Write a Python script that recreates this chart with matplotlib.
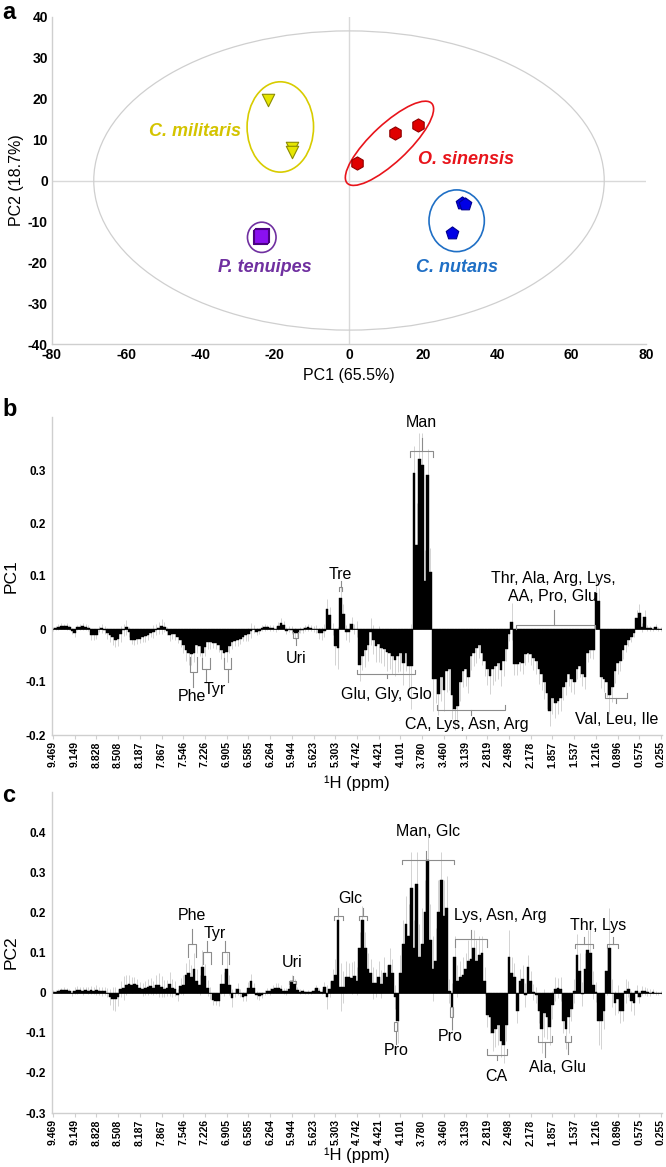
import matplotlib.pyplot as plt
from matplotlib.patches import Ellipse, Rectangle
import numpy as np

plt.rcParams['font.family'] = ['Liberation Sans', 'DejaVu Sans']
plt.rcParams['axes.unicode_minus'] = False
NARROW = ['Liberation Sans Narrow', 'Liberation Sans', 'DejaVu Sans']

# ---------------- panel a: PCA scores ----------------
mil_x = [-21.7, -15.3, -15.3]
mil_y = [19.7, 8.0, 7.0]
sin_x = [2.1, 12.4, 18.6]
sin_y = [4.2, 11.5, 13.7]
nut_x = [30.4, 31.2, 27.8]
nut_y = [-5.6, -5.8, -12.9]
ten_x = [-23.9, -23.4, -23.6]
ten_y = [-13.9, -13.4, -13.6]

# ---------------- panels b, c: loadings ----------------
ppm_labels = ['9.469', '9.149', '8.828', '8.508', '8.187', '7.867', '7.546', '7.226',
              '6.905', '6.585', '6.264', '5.944', '5.623', '5.303', '4.742', '4.421',
              '4.101', '3.780', '3.460', '3.139', '2.819', '2.498', '2.178', '1.857',
              '1.537', '1.216', '0.896', '0.575', '0.255']

pc1 = [0.000, 0.002, 0.004, 0.006, 0.005, 0.005, 0.003, -0.004, -0.008, 0.003,
       0.004, 0.005, 0.004, 0.002, -0.012, -0.012, -0.011, 0.000, 0.001, -0.002,
       -0.008, -0.012, -0.016, -0.020, -0.019, -0.010, -0.002, 0.003, -0.006, -0.020,
       -0.020, -0.019, -0.018, -0.016, -0.014, -0.012, -0.008, -0.005, -0.001, 0.002,
       0.005, 0.004, -0.004, -0.012, -0.010, -0.010, -0.015, -0.020, -0.030, -0.040,
       -0.046, -0.047, -0.045, -0.030, -0.032, -0.045, -0.034, -0.025, -0.025, -0.026,
       -0.026, -0.030, -0.040, -0.045, -0.044, -0.032, -0.025, -0.022, -0.020, -0.018,
       -0.015, -0.012, -0.010, -0.003, 0.000, -0.005, -0.004, 0.002, 0.003, 0.003,
       0.002, 0.002, 0.000, 0.006, 0.011, 0.008, -0.003, 0.000, -0.002, -0.008,
       -0.008, -0.002, -0.002, 0.002, 0.003, 0.002, 0.000, 0.000, -0.008, -0.008,
       -0.003, 0.037, 0.026, 0.000, -0.033, -0.036, 0.058, 0.028, -0.006, -0.006,
       0.010, 0.000, 0.000, -0.068, -0.050, -0.040, -0.030, -0.005, -0.020, -0.033,
       -0.028, -0.036, -0.038, -0.043, -0.045, -0.050, -0.058, -0.050, -0.045, -0.065,
       -0.045, -0.070, -0.070, 0.295, 0.158, 0.320, 0.310, 0.090, 0.290, 0.108,
       -0.095, -0.095, -0.123, -0.090, -0.115, -0.080, -0.075, -0.125, -0.150, -0.145,
       -0.100, -0.080, -0.075, -0.090, -0.050, -0.045, -0.035, -0.030, -0.045, -0.060,
       -0.075, -0.088, -0.075, -0.070, -0.065, -0.078, -0.060, -0.038, -0.010, 0.014,
       -0.066, -0.066, -0.062, -0.065, -0.048, -0.045, -0.048, -0.055, -0.060, -0.075,
       -0.085, -0.100, -0.120, -0.155, -0.130, -0.140, -0.135, -0.130, -0.110, -0.100,
       -0.085, -0.095, -0.100, -0.075, -0.070, -0.085, -0.090, -0.045, -0.040, -0.040,
       0.068, 0.052, -0.090, -0.095, -0.100, -0.125, -0.110, -0.080, -0.065, -0.060,
       -0.040, -0.030, -0.020, -0.015, -0.008, 0.020, 0.030, 0.003, 0.022, 0.002,
       0.001, 0.000, 0.004, 0.000, 0.000]

pc1_err = [0.004, 0.004, 0.005, 0.006, 0.005, 0.006, 0.005, 0.006, 0.007, 0.005,
           0.006, 0.006, 0.005, 0.006, 0.008, 0.008, 0.007, 0.006, 0.008, 0.008,
           0.010, 0.012, 0.014, 0.014, 0.013, 0.015, 0.012, 0.014, 0.010, 0.008,
           0.010, 0.010, 0.009, 0.008, 0.010, 0.009, 0.008, 0.012, 0.010, 0.012,
           0.014, 0.010, 0.008, 0.010, 0.008, 0.010, 0.012, 0.014, 0.016, 0.020,
           0.022, 0.020, 0.018, 0.015, 0.018, 0.020, 0.016, 0.012, 0.012, 0.010,
           0.012, 0.014, 0.016, 0.020, 0.018, 0.014, 0.012, 0.010, 0.012, 0.010,
           0.008, 0.010, 0.012, 0.014, 0.008, 0.006, 0.006, 0.005, 0.006, 0.005,
           0.006, 0.006, 0.005, 0.008, 0.010, 0.008, 0.006, 0.006, 0.008, 0.010,
           0.008, 0.006, 0.006, 0.006, 0.006, 0.005, 0.006, 0.008, 0.010, 0.012,
           0.012, 0.020, 0.016, 0.012, 0.035, 0.040, 0.025, 0.020, 0.014, 0.018,
           0.012, 0.010, 0.015, 0.030, 0.028, 0.032, 0.030, 0.025, 0.028, 0.030,
           0.034, 0.028, 0.032, 0.036, 0.030, 0.034, 0.030, 0.032, 0.034, 0.040,
           0.035, 0.045, 0.080, 0.050, 0.080, 0.050, 0.060, 0.060, 0.050, 0.045,
           0.060, 0.045, 0.040, 0.045, 0.040, 0.038, 0.040, 0.045, 0.040, 0.038,
           0.035, 0.030, 0.032, 0.030, 0.028, 0.025, 0.030, 0.025, 0.022, 0.028,
           0.030, 0.035, 0.030, 0.028, 0.030, 0.030, 0.028, 0.022, 0.012, 0.035,
           0.020, 0.020, 0.018, 0.020, 0.020, 0.018, 0.020, 0.022, 0.025, 0.028,
           0.030, 0.032, 0.030, 0.028, 0.030, 0.028, 0.026, 0.025, 0.024, 0.025,
           0.022, 0.024, 0.022, 0.020, 0.020, 0.022, 0.024, 0.018, 0.015, 0.016,
           0.040, 0.025, 0.022, 0.024, 0.028, 0.035, 0.028, 0.022, 0.020, 0.020,
           0.016, 0.014, 0.012, 0.010, 0.008, 0.016, 0.018, 0.008, 0.014, 0.006,
           0.005, 0.004, 0.005, 0.003, 0.003]

pc2 = [0.002, 0.002, 0.003, 0.006, 0.007, 0.007, 0.005, -0.002, 0.005, 0.006,
       0.006, 0.005, 0.006, 0.005, 0.006, 0.005, 0.006, 0.004, 0.003, 0.004,
       0.000, -0.010, -0.015, -0.016, -0.012, 0.010, 0.012, 0.020, 0.022, 0.020,
       0.022, 0.018, 0.012, 0.008, 0.012, 0.014, 0.016, 0.012, 0.020, 0.018,
       0.015, 0.010, 0.012, 0.022, 0.012, 0.010, -0.005, 0.016, 0.018, 0.045,
       0.048, 0.040, 0.060, 0.028, 0.020, 0.065, 0.042, 0.012, 0.000, -0.018,
       -0.020, -0.020, 0.022, 0.022, 0.060, 0.020, -0.014, 0.000, 0.008, -0.002,
       -0.010, -0.008, 0.012, 0.028, 0.012, -0.006, -0.008, -0.006, 0.000, 0.004,
       0.003, 0.008, 0.012, 0.012, 0.010, 0.004, 0.003, 0.010, 0.028, 0.022,
       0.006, 0.002, 0.003, 0.001, 0.002, 0.001, 0.005, 0.012, 0.005, 0.002,
       0.015, -0.012, 0.010, 0.030, 0.045, 0.182, 0.015, 0.015, 0.040, 0.040,
       0.036, 0.042, 0.030, 0.110, 0.180, 0.110, 0.060, 0.050, 0.023, 0.024,
       0.040, 0.022, 0.050, 0.038, 0.070, 0.050, -0.010, -0.070, 0.050, 0.120,
       0.170, 0.140, 0.260, 0.110, 0.270, 0.090, 0.120, 0.200, 0.330, 0.130,
       0.060, 0.080, 0.200, 0.280, 0.190, 0.210, 0.005, -0.035, 0.090, 0.030,
       0.040, 0.045, 0.060, 0.080, 0.085, 0.110, 0.080, 0.095, 0.100, 0.030,
       -0.055, -0.060, -0.100, -0.090, -0.080, -0.120, -0.130, -0.080, 0.090, 0.050,
       0.040, -0.045, 0.030, 0.035, -0.005, 0.064, 0.030, 0.002, -0.005, -0.045,
       -0.090, -0.050, -0.060, -0.085, -0.030, 0.010, 0.012, 0.008, -0.070, -0.090,
       -0.060, -0.040, 0.005, 0.095, 0.055, -0.003, 0.060, 0.105, 0.100, 0.020,
       0.002, -0.070, -0.070, -0.045, 0.055, 0.110, 0.000, -0.025, -0.015, -0.045,
       -0.045, 0.005, 0.010, -0.020, -0.025, 0.005, -0.010, 0.005, 0.003, 0.002,
       0.000, 0.002, 0.000, -0.002, 0.000]

pc2_err = [0.004, 0.004, 0.005, 0.006, 0.006, 0.005, 0.005, 0.006, 0.008, 0.010,
           0.008, 0.010, 0.008, 0.009, 0.010, 0.008, 0.012, 0.010, 0.012, 0.010,
           0.012, 0.020, 0.028, 0.030, 0.022, 0.020, 0.030, 0.025, 0.022, 0.020,
           0.018, 0.015, 0.014, 0.016, 0.018, 0.020, 0.020, 0.018, 0.024, 0.030,
           0.026, 0.022, 0.020, 0.030, 0.022, 0.018, 0.015, 0.020, 0.025, 0.030,
           0.035, 0.030, 0.040, 0.030, 0.025, 0.040, 0.030, 0.020, 0.015, 0.012,
           0.012, 0.014, 0.025, 0.030, 0.040, 0.025, 0.022, 0.012, 0.015, 0.010,
           0.012, 0.012, 0.015, 0.018, 0.012, 0.010, 0.010, 0.008, 0.006, 0.008,
           0.008, 0.010, 0.012, 0.012, 0.010, 0.008, 0.008, 0.010, 0.015, 0.012,
           0.008, 0.006, 0.005, 0.004, 0.005, 0.004, 0.006, 0.008, 0.006, 0.006,
           0.012, 0.030, 0.020, 0.030, 0.040, 0.030, 0.060, 0.040, 0.040, 0.035,
           0.040, 0.038, 0.035, 0.040, 0.035, 0.040, 0.038, 0.035, 0.040, 0.035,
           0.040, 0.035, 0.040, 0.030, 0.040, 0.035, 0.030, 0.055, 0.045, 0.060,
           0.070, 0.080, 0.090, 0.070, 0.080, 0.080, 0.090, 0.080, 0.070, 0.090,
           0.080, 0.080, 0.080, 0.070, 0.090, 0.080, 0.030, 0.060, 0.050, 0.040,
           0.040, 0.045, 0.040, 0.050, 0.050, 0.045, 0.050, 0.045, 0.040, 0.035,
           0.030, 0.040, 0.045, 0.045, 0.050, 0.040, 0.045, 0.040, 0.065, 0.040,
           0.035, 0.030, 0.030, 0.035, 0.030, 0.030, 0.025, 0.020, 0.020, 0.030,
           0.060, 0.060, 0.055, 0.045, 0.035, 0.030, 0.025, 0.030, 0.030, 0.050,
           0.040, 0.030, 0.030, 0.050, 0.045, 0.030, 0.040, 0.050, 0.060, 0.035,
           0.025, 0.060, 0.070, 0.045, 0.060, 0.100, 0.035, 0.030, 0.035, 0.030,
           0.025, 0.030, 0.020, 0.025, 0.030, 0.015, 0.015, 0.012, 0.010, 0.010,
           0.008, 0.006, 0.005, 0.004, 0.004]

W, H = 666, 1167
fig = plt.figure(figsize=(W / 100, H / 100), dpi=100)


def px_axes(left, top, right, bottom):
    ax = fig.add_axes([left / W, 1 - bottom / H, (right - left) / W, (bottom - top) / H])
    ax.patch.set_alpha(0)
    return ax


def style_spines(ax):
    for s in ['top', 'right']:
        ax.spines[s].set_visible(False)
    for s in ['left', 'bottom']:
        ax.spines[s].set_color('#cfcfcf')
        ax.spines[s].set_linewidth(1.0)


# ===== panel a =====
ax1 = px_axes(52, 17, 646, 344)
style_spines(ax1)
ax1.set_xlim(-80, 80)
ax1.set_ylim(-40, 40)
ax1.axhline(0, color='#d9d9d9', lw=1.0, zorder=0)
ax1.axvline(0, color='#d9d9d9', lw=1.0, zorder=0)
ax1.add_patch(Ellipse((0, 0), 137.5, 73.2, fill=False, ec='#cfcfcf', lw=0.9))

ax1.add_patch(Ellipse((-18.5, 13.1), 17.9, 22.1, fill=False, ec='#d8cc00', lw=1.2))
ax1.add_patch(Ellipse((10.9, 9.1), 30, 9.5, angle=40, fill=False, ec='#e8141b', lw=1.2))
ax1.add_patch(Ellipse((29.0, -9.85), 14.9, 15.1, fill=False, ec='#1f6fc5', lw=1.2))
ax1.add_patch(Ellipse((-23.5, -13.9), 7.7, 7.4, fill=False, ec='#7030a0', lw=1.2))

ax1.scatter(mil_x, mil_y, marker='v', s=80, c='#e6e600', edgecolors='#8c8c00', lw=0.8, zorder=3)
ax1.scatter(sin_x, sin_y, marker='h', s=90, c='#e00000', edgecolors='#900000', lw=0.8, zorder=3)
ax1.scatter(nut_x, nut_y, marker='p', s=90, c='#0000e6', edgecolors='#000090', lw=0.8, zorder=3)
ax1.scatter(ten_x, ten_y, marker='s', s=90, c='#8a10f0', edgecolors='#4b0082', lw=0.8, zorder=3)

lab_kw = dict(ha='center', va='center', fontsize=13, fontweight='bold', style='italic', family=NARROW)
ax1.text(-41.5, 11.9, 'C. militaris', color='#d4c400', **lab_kw)
ax1.text(31.6, 5.2, 'O. sinensis', color='#e8141b', **lab_kw)
ax1.text(-22.6, -21.2, 'P. tenuipes', color='#7030a0', **lab_kw)
ax1.text(29.0, -21.2, 'C. nutans', color='#1f6fc5', **lab_kw)

ax1.set_xticks(np.arange(-80, 81, 20))
ax1.set_yticks(np.arange(-40, 41, 10))
ax1.tick_params(length=0, pad=3)
for t in ax1.get_xticklabels() + ax1.get_yticklabels():
    t.set_family(NARROW)
    t.set_fontweight('bold')
    t.set_fontsize(10)
ax1.set_xlabel('PC1 (65.5%)', fontsize=11.5, labelpad=4)
ax1.set_ylabel('PC2 (18.7%)', fontsize=11.5, labelpad=3)

# ===== loading panels =====
idx = np.arange(len(pc1))
GRAY = '#8c8c8c'


def loading_axes(top, bottom, label_y, vals, errs, ylim, yticks, ylabel):
    ax = px_axes(51.6, top, 662.4, bottom)
    style_spines(ax)
    vals = np.array(vals)
    errs = np.array(errs)
    ax.vlines(idx, vals - errs, vals + errs, color='#cccccc', lw=0.6, zorder=1)
    ax.bar(idx, vals, width=1.0, color='black', edgecolor='black', lw=0.3, zorder=2)
    ax.axhline(0, color='black', lw=0.6, zorder=2)
    ax.set_xlim(-0.5, len(vals) - 0.5)
    ax.set_ylim(*ylim)
    ax.set_xticks(np.arange(0, len(vals), 8))
    ax.set_xticklabels(ppm_labels, rotation=90)
    ax.set_yticks(yticks)
    ax.set_yticklabels(['0' if abs(v) < 1e-9 else f'{v:.1f}' for v in yticks])
    ax.tick_params(axis='x', length=3, color='#cfcfcf', pad=1.5)
    ax.tick_params(axis='y', length=0, pad=4)
    for t in ax.get_xticklabels():
        t.set_family(NARROW)
        t.set_fontweight('bold')
        t.set_fontsize(7.5)
    for t in ax.get_yticklabels():
        t.set_family(NARROW)
        t.set_fontweight('bold')
        t.set_fontsize(8.5)
    ax.set_xlabel('\u00b9H (ppm)', fontsize=12, va='center')
    ax.xaxis.set_label_coords(0.5, (bottom - label_y) / (bottom - top))
    ax.set_ylabel(ylabel, fontsize=12.5, labelpad=5)
    return ax


def bracket(ax, x0, x1, y, end, tip, xc=None):
    xc = (x0 + x1) / 2 if xc is None else xc
    ax.plot([x0, x0, x1, x1], [y + end, y, y, y + end], color=GRAY, lw=0.8, zorder=4)
    ax.plot([xc, xc], [y, y + tip], color=GRAY, lw=0.8, zorder=4)


def note(ax, x, y, s):
    ax.text(x, y, s, ha='center', va='center', fontsize=11.5, zorder=5)


ax2 = loading_axes(417, 735, 783, pc1, pc1_err, (-0.2, 0.4),
                   [-0.2, -0.1, 0.0, 0.1, 0.2, 0.3], 'PC1')
bracket(ax2, 131.5, 140.1, 0.336, -0.012, 0.024)
note(ax2, 135.8, 0.389, 'Man')
bracket(ax2, 105.4, 106.6, 0.079, -0.008, 0.011)
note(ax2, 105.7, 0.102, 'Tre')
bracket(ax2, 88.6, 90.4, -0.017, 0.011, -0.013)
note(ax2, 89.5, -0.055, 'Uri')
bracket(ax2, 50.5, 53.0, -0.081, 0.029, -0.028)
note(ax2, 51.2, -0.128, 'Phe')
bracket(ax2, 55.0, 57.8, -0.075, 0.02, -0.025)
bracket(ax2, 63.0, 65.7, -0.075, 0.02, -0.025)
note(ax2, 59.5, -0.114, 'Tyr')
bracket(ax2, 112.1, 133.4, -0.084, 0.006, -0.008, 122.9)
note(ax2, 123.0, -0.124, 'Glu, Gly, Glo')
bracket(ax2, 141.4, 166.5, -0.153, 0.010, -0.009, 153.9)
note(ax2, 152.4, -0.181, 'CA, Lys, Asn, Arg')
bracket(ax2, 170.6, 199.7, 0.008, -0.008, 0.027, 184.5)
note(ax2, 184.3, 0.096, 'Thr, Ala, Arg, Lys,')
note(ax2, 184.0, 0.061, 'AA, Pro, Glu')
bracket(ax2, 203.5, 211.3, -0.131, 0.010, -0.009, 207.4)
note(ax2, 207.8, -0.171, 'Val, Leu, Ile')

ax3 = loading_axes(792, 1113, 1155, pc2, pc2_err, (-0.3, 0.5),
                   [-0.3, -0.2, -0.1, 0.0, 0.1, 0.2, 0.3, 0.4], 'PC2')
bracket(ax3, 128.4, 147.7, 0.33, -0.01, 0.022, 137.6)
note(ax3, 138.3, 0.401, 'Man, Glc')
bracket(ax3, 103.6, 106.7, 0.19, -0.01, 0.02)
bracket(ax3, 112.7, 115.8, 0.19, -0.01, 0.02)
note(ax3, 109.4, 0.234, 'Glc')
bracket(ax3, 87.0, 89.7, 0.03, -0.008, 0.012)
note(ax3, 87.9, 0.076, 'Uri')
ax3.add_patch(Rectangle((125.6, -0.095), 1.2, 0.023, fill=False, ec=GRAY, lw=0.8, zorder=4))
ax3.plot([126.2, 126.2], [-0.095, -0.128], color=GRAY, lw=0.8, zorder=4)
note(ax3, 126.3, -0.143, 'Pro')
ax3.add_patch(Rectangle((146.4, -0.06), 1.0, 0.023, fill=False, ec=GRAY, lw=0.8, zorder=4))
ax3.plot([146.9, 146.9], [-0.06, -0.09], color=GRAY, lw=0.8, zorder=4)
note(ax3, 146.5, -0.109, 'Pro')
bracket(ax3, 160.0, 167.1, -0.156, 0.016, -0.012, 163.6)
note(ax3, 163.2, -0.21, 'CA')
bracket(ax3, 148.2, 159.8, 0.134, -0.021, 0.021, 153.9)
note(ax3, 164.7, 0.1925, 'Lys, Asn, Arg')
bracket(ax3, 192.4, 199.1, 0.122, -0.012, 0.017)
bracket(ax3, 204.0, 208.3, 0.122, -0.012, 0.017)
note(ax3, 201.0, 0.1675, 'Thr, Lys')
bracket(ax3, 178.5, 183.9, -0.124, 0.017, -0.036, 181.2)
bracket(ax3, 188.6, 191.0, -0.124, 0.017, -0.029, 189.9)
note(ax3, 185.9, -0.187, 'Ala, Glu')
bracket(ax3, 49.6, 52.7, 0.122, -0.034, 0.036)
note(ax3, 51.1, 0.1925, 'Phe')
bracket(ax3, 55.1, 58.1, 0.101, -0.029, 0.027)
bracket(ax3, 62.1, 65.0, 0.101, -0.029, 0.027)
note(ax3, 59.7, 0.147, 'Tyr')

# panel letters
for letter, ytop in [('a', 1), ('b', 398), ('c', 784)]:
    fig.text(2 / W, 1 - ytop / H, letter, fontsize=17, fontweight='bold', va='top', ha='left')

fig.savefig('out.png', dpi=100)
